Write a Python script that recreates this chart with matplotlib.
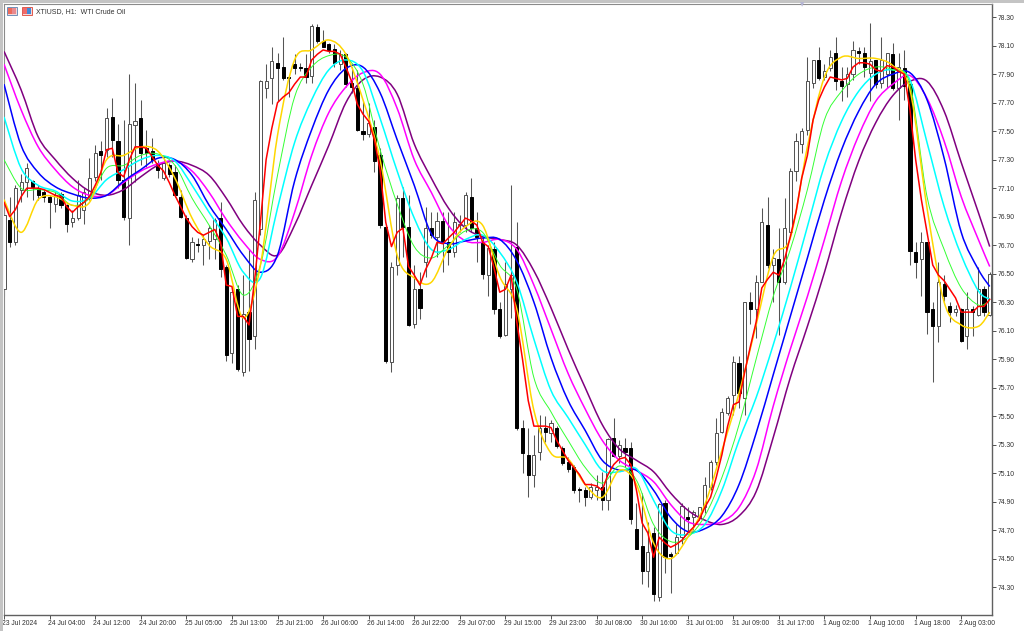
import matplotlib
matplotlib.use('Agg')
import matplotlib.pyplot as plt
from matplotlib.patches import Rectangle, PathPatch
from matplotlib.path import Path
from matplotlib.transforms import ScaledTranslation

opens = [76.39,76.88,76.72,77.09,77.14,77.15,77.10,77.07,77.04,76.99,77.06,76.98,76.86,76.89,76.95,77.04,77.18,77.36,77.37,77.60,
         77.43,77.16,76.89,77.54,77.59,77.38,77.36,77.28,77.17,77.26,77.21,77.04,76.89,76.60,76.71,76.70,76.73,76.74,76.89,76.55,
         75.94,76.39,75.81,76.23,76.06,76.81,77.80,77.87,77.98,77.95,77.88,77.97,77.95,77.94,77.89,78.23,78.13,78.11,78.08,77.97,
         78.04,77.84,77.80,77.50,77.48,77.53,77.33,76.83,75.88,76.56,77.03,76.83,76.15,76.39,76.58,76.82,76.76,76.87,76.72,76.65,
         76.84,76.84,77.04,76.82,76.72,76.49,76.67,76.25,76.07,76.39,76.69,75.42,75.23,75.09,75.25,75.42,75.38,75.42,75.28,75.18,
         75.14,74.99,74.98,74.93,74.98,75.00,74.91,75.35,75.22,75.28,75.28,74.71,74.59,74.41,74.68,74.23,74.89,74.53,74.54,74.65,
         74.79,74.79,74.79,74.86,75.00,75.18,75.39,75.52,75.65,75.87,75.63,76.30,76.25,76.44,76.84,76.56,76.60,76.44,76.79,77.22,
         77.41,77.51,77.84,78.00,77.88,77.94,78.05,77.85,77.83,77.90,78.06,78.05,77.91,78.00,77.84,77.90,78.04,77.80,77.94,77.83,
         76.65,76.60,76.72,76.25,76.13,76.43,76.27,76.23,76.25,76.06,76.25,76.21,76.39,76.21]
highs = [77.02,77.04,77.12,77.20,77.28,77.16,77.12,77.09,77.05,77.07,77.07,76.99,76.95,77.16,77.10,77.31,77.40,77.43,77.66,77.73,
         77.55,77.58,77.90,77.84,77.72,77.51,77.45,77.30,77.31,77.28,77.26,77.09,76.91,76.76,76.75,76.77,76.84,76.89,77.00,76.56,
         76.40,76.42,76.49,76.67,77.07,77.86,77.97,78.09,78.05,78.16,77.88,78.04,77.98,78.04,78.25,78.25,78.21,78.12,78.11,78.07,
         78.05,77.95,77.93,77.71,77.70,77.58,77.38,76.84,76.58,77.05,77.11,77.05,76.56,76.51,76.97,76.93,76.93,76.93,76.93,76.93,
         76.91,77.07,77.17,76.93,76.76,76.70,76.72,76.30,76.58,77.12,76.86,75.47,75.42,75.37,75.51,75.50,75.47,75.43,75.29,75.21,
         75.16,75.00,75.00,75.03,75.09,75.11,75.35,75.49,75.33,75.35,75.32,74.89,74.96,74.76,74.72,74.89,74.91,74.55,74.74,74.89,
         74.86,74.84,74.86,75.07,75.19,75.49,75.56,75.64,75.92,75.92,76.30,76.37,76.49,76.96,77.04,76.67,76.82,77.03,77.24,77.49,
         77.52,78.02,78.00,78.09,77.97,78.07,78.16,77.95,77.95,78.13,78.09,78.09,78.26,78.00,78.16,78.05,78.12,78.05,78.07,77.84,
         76.72,76.79,76.72,76.30,76.58,76.49,76.30,76.28,76.26,76.37,76.27,76.55,76.41,76.51]
lows = [76.34,76.69,76.70,77.00,77.04,77.02,77.02,77.00,76.82,76.93,76.96,76.79,76.83,76.88,76.85,77.02,77.15,77.16,77.32,77.32,
        77.10,76.88,76.70,77.14,77.26,77.25,77.28,77.17,77.16,77.18,77.04,76.89,76.60,76.58,76.65,76.56,76.60,76.60,76.48,75.89,
        75.87,75.82,75.78,75.82,75.97,76.77,77.73,77.69,77.71,77.86,77.74,77.90,77.92,77.84,77.84,78.12,78.09,78.05,77.95,77.93,
        77.81,77.77,77.50,77.44,77.46,77.21,76.82,75.87,75.81,76.49,76.62,76.13,76.12,76.18,76.48,76.75,76.62,76.51,76.56,76.62,
        76.79,76.79,76.79,76.58,76.46,76.34,76.22,76.05,76.06,76.19,75.40,75.10,74.93,75.00,75.19,75.32,75.32,75.28,75.16,75.11,
        74.96,74.90,74.87,74.92,74.91,74.84,74.84,75.21,75.17,75.14,74.74,74.57,74.32,74.30,74.20,74.20,74.40,74.26,74.53,74.60,
        74.69,74.70,74.77,74.82,74.98,75.16,75.38,75.51,75.51,75.56,75.51,76.15,76.05,76.44,76.54,76.30,76.07,76.43,76.79,77.15,
        77.35,77.47,77.80,77.86,77.86,77.92,77.79,77.71,77.74,77.86,77.97,77.88,77.71,77.80,77.80,77.80,77.79,77.58,77.72,76.56,
        76.47,76.34,76.08,75.74,76.02,76.31,76.16,76.20,76.02,75.97,76.06,76.20,76.20,76.20]
closes = [76.91,76.72,77.10,77.14,77.24,77.11,77.05,77.04,77.00,77.05,76.98,76.85,76.89,77.05,77.07,77.17,77.35,77.33,77.59,77.44,
          77.16,76.90,77.55,77.57,77.35,77.35,77.30,77.23,77.28,77.20,77.05,76.90,76.61,76.72,76.70,76.74,76.82,76.88,76.53,75.93,
          76.37,75.83,76.22,76.04,77.02,77.85,77.85,77.99,77.94,77.87,77.87,77.94,77.94,77.88,78.24,78.13,78.09,78.07,77.98,78.04,
          77.83,77.81,77.51,77.48,77.56,77.29,76.84,75.89,76.55,77.03,76.83,76.14,76.39,76.26,76.82,76.77,76.87,76.72,76.65,76.86,
          76.85,77.05,76.82,76.76,76.50,76.68,76.25,76.06,76.43,76.49,75.42,75.24,75.09,75.23,75.42,75.39,75.45,75.29,75.17,75.13,
          74.98,74.98,74.93,75.00,75.00,74.91,75.34,75.22,75.30,75.25,74.78,74.57,74.41,74.55,74.25,74.88,74.51,74.52,74.65,74.87,
          74.78,74.83,74.86,75.02,75.18,75.38,75.53,75.63,75.88,75.66,76.30,76.25,76.44,76.86,76.56,76.61,76.44,76.82,77.22,77.43,
          77.50,77.85,78.00,77.87,77.92,78.02,77.85,77.82,77.90,78.07,78.05,77.95,77.99,77.83,78.00,78.05,77.80,77.95,77.82,76.66,
          76.58,76.72,76.23,76.13,76.44,76.34,76.23,76.25,76.03,76.25,76.23,76.39,76.23,76.50]

line_bars = list(range(0, 172, 3)) + [173]
purple = [78.06,77.79,77.46,77.30,77.17,77.08,77.05,77.09,77.18,77.26,77.29,77.26,77.19,77.03,76.84,76.70,76.63,76.84,77.12,77.40,
          77.70,77.86,77.88,77.76,77.41,77.17,76.96,76.82,76.76,76.74,76.70,76.52,76.26,75.97,75.70,75.44,75.27,75.19,75.11,74.96,
          74.84,74.77,74.74,74.80,74.97,75.35,75.77,76.13,76.51,76.93,77.29,77.56,77.75,77.85,77.85,77.64,77.28,76.93,76.69]
magenta = [77.97,77.65,77.39,77.23,77.11,77.05,77.05,77.14,77.22,77.27,77.29,77.22,77.07,76.88,76.72,76.60,76.62,76.93,77.33,77.63,
           77.81,77.91,77.90,77.66,77.30,77.07,76.84,76.73,76.72,76.74,76.67,76.42,76.11,75.80,75.55,75.33,75.19,75.12,75.04,74.88,
           74.76,74.74,74.76,74.86,75.12,75.57,75.97,76.34,76.74,77.15,77.47,77.71,77.83,77.89,77.73,77.43,77.04,76.74,76.55]
blue = [77.83,77.40,77.21,77.11,77.06,77.03,77.05,77.15,77.23,77.31,77.30,77.19,76.98,76.81,76.63,76.51,76.63,77.15,77.51,77.79,
        77.94,77.95,77.77,77.44,77.12,76.78,76.71,76.73,76.75,76.74,76.59,76.30,75.91,75.61,75.40,75.19,75.12,75.12,74.98,74.79,
        74.69,74.71,74.80,75.02,75.38,75.79,76.20,76.61,77.02,77.37,77.64,77.83,77.90,77.91,77.72,77.31,76.79,76.53,76.41]
cyan = [77.60,77.24,77.12,77.08,77.01,77.03,77.16,77.23,77.30,77.33,77.29,77.12,76.93,76.75,76.51,76.47,76.96,77.42,77.72,77.93,
        78.00,77.92,77.59,77.22,76.89,76.67,76.67,76.74,76.77,76.65,76.44,76.04,75.68,75.49,75.30,75.12,75.11,75.13,74.91,74.70,
        74.67,74.74,74.98,75.33,75.63,76.00,76.40,76.83,77.26,77.57,77.78,77.90,77.93,77.86,77.42,76.97,76.63,76.38,76.32]
lime = [77.30,77.10,77.09,77.07,76.98,77.03,77.24,77.26,77.33,77.34,77.26,77.03,76.84,76.63,76.35,76.56,77.19,77.74,77.95,78.03,
        78.02,77.83,77.37,76.99,76.69,76.61,76.70,76.80,76.79,76.56,76.39,75.77,75.53,75.33,75.14,75.03,75.15,75.05,74.74,74.62,
        74.65,74.80,75.07,75.44,75.90,76.34,76.67,77.09,77.58,77.78,77.90,77.95,77.93,77.83,77.04,76.67,76.40,76.28,76.31]
gold = [77.02,76.79,77.02,77.04,76.98,77.00,77.30,77.33,77.39,77.36,77.17,76.89,76.70,76.60,76.19,76.56,77.47,78.00,78.07,78.14,
        78.04,77.72,77.30,76.63,76.47,76.44,76.68,76.83,76.84,76.48,76.25,75.54,75.24,75.20,75.02,74.93,75.12,75.02,74.61,74.50,
        74.65,74.88,75.26,75.66,76.14,76.62,76.75,77.39,77.88,78.02,78.01,78.01,77.96,77.79,76.96,76.30,76.14,76.13,76.23]
# the red line is read on every bar, it has too many corners for anything coarser
red = [77.00,76.90,76.95,77.04,77.10,77.10,77.10,77.09,77.07,77.05,77.04,76.97,76.93,76.97,77.00,77.04,77.12,77.21,77.37,77.38,
       77.21,77.18,77.30,77.39,77.39,77.38,77.32,77.26,77.22,77.14,77.05,76.97,76.89,76.83,76.79,76.77,76.79,76.81,76.72,76.42,
       76.41,76.20,76.20,76.14,76.46,76.86,77.30,77.52,77.70,77.74,77.77,77.83,77.88,77.88,78.00,78.04,78.07,78.06,78.06,78.04,
       77.95,77.85,77.69,77.62,77.57,77.44,77.23,76.86,76.69,76.79,76.82,76.55,76.49,76.42,76.53,76.61,76.72,76.71,76.75,76.79,
       76.84,76.89,76.87,76.84,76.72,76.69,76.54,76.37,76.39,76.49,76.16,75.90,75.61,75.43,75.43,75.43,75.42,75.33,75.26,75.19,
       75.14,75.09,75.02,75.02,75.01,74.98,75.09,75.16,75.20,75.21,75.16,74.98,74.75,74.68,74.51,74.65,74.61,74.58,74.60,74.63,
       74.68,74.72,74.77,74.86,74.93,75.07,75.23,75.43,75.58,75.60,75.81,75.99,76.16,76.40,76.46,76.51,76.49,76.60,76.76,76.93,
       77.17,77.33,77.58,77.72,77.81,77.88,77.87,77.86,77.87,77.95,77.98,77.98,77.97,77.93,77.92,77.96,77.95,77.92,77.90,77.65,
       77.30,77.02,76.79,76.56,76.49,76.45,76.39,76.33,76.23,76.23,76.23,76.27,76.27,76.32]

price_ticks = [74.30 + 0.2 * n for n in range(21)]
time_ticks = list(range(0, 176, 8))
time_labels = ['23 Jul 2024','24 Jul 04:00','24 Jul 12:00','24 Jul 20:00','25 Jul 05:00','25 Jul 13:00','25 Jul 21:00',
               '26 Jul 06:00','26 Jul 14:00','26 Jul 22:00','29 Jul 07:00','29 Jul 15:00','29 Jul 23:00','30 Jul 08:00',
               '30 Jul 16:00','31 Jul 01:00','31 Jul 09:00','31 Jul 17:00','1 Aug 02:00','1 Aug 10:00','1 Aug 18:00','2 Aug 03:00']

plt.rcParams['font.family'] = ['Liberation Sans', 'DejaVu Sans']

fig = plt.figure(figsize=(10.24, 6.31), dpi=100, facecolor='white')
ax = fig.add_axes([3.5/1024, 1 - 614.5/631, (992 - 3.5)/1024, (614.5 - 3.5)/631])

# candles
bars = list(range(len(opens)))
ax.vlines(bars, lows, highs, color='#555555', linewidth=0.75, zorder=2)
for i in bars:
    bottom = min(opens[i], closes[i])
    height = abs(closes[i] - opens[i])
    if closes[i] > opens[i]:
        ax.bar(i, height, bottom=bottom, width=0.55, facecolor='white', edgecolor='#505050', linewidth=0.7, zorder=3)
    else:
        ax.bar(i, height, bottom=bottom, width=0.55, facecolor='black', edgecolor='black', linewidth=0.7, zorder=3)


def curve(xs, ys, color, width):
    # a rounded stroke through the read values, the indicators are smooth on the terminal
    verts = [(xs[0], ys[0])]
    codes = [Path.MOVETO]
    last = len(xs) - 1
    for i in range(last):
        a, b = max(i - 1, 0), min(i + 2, last)
        verts.append((xs[i] + (xs[i + 1] - xs[a]) / 6, ys[i] + (ys[i + 1] - ys[a]) / 6))
        verts.append((xs[i + 1] - (xs[b] - xs[i]) / 6, ys[i + 1] - (ys[b] - ys[i]) / 6))
        verts.append((xs[i + 1], ys[i + 1]))
        codes += [Path.CURVE4, Path.CURVE4, Path.CURVE4]
    ax.add_patch(PathPatch(Path(verts, codes), fill=False, edgecolor=color, linewidth=width, zorder=4))


curve(line_bars, purple, '#800080', 1.1)
curve(line_bars, magenta, '#ff00ff', 1.1)
curve(line_bars, blue, '#0000ff', 1.1)
curve(line_bars, cyan, '#00ffff', 1.1)
curve(line_bars, lime, '#33ff33', 0.7)
curve(line_bars, gold, '#ffd700', 1.1)
ax.plot(bars, red, color='#ff0000', linewidth=1.1, zorder=5)

ax.set_xlim(-0.09, 173.4)
ax.set_ylim(74.108, 78.396)

ax.yaxis.tick_right()
ax.set_yticks(price_ticks)
ax.set_yticklabels(['%.2f' % p for p in price_ticks], fontsize=4.9, color='#303030')
ax.set_xticks(time_ticks)
ax.set_xticklabels(time_labels, fontsize=4.85, color='#303030', ha='left')
ax.tick_params(axis='y', length=3, width=0.7, color='#505050', pad=0.8)
ax.tick_params(axis='x', length=3, width=0.7, color='#505050', pad=1.2)

# time labels start right under their tick mark
nudge = ScaledTranslation(-1.8/100, 0, fig.dpi_scale_trans)
for label in ax.get_xticklabels():
    label.set_transform(label.get_transform() + nudge)

for side in ['top', 'left']:
    ax.spines[side].set_color('#8a8a8a')
    ax.spines[side].set_linewidth(0.8)
for side in ['bottom', 'right']:
    ax.spines[side].set_color('#606060')
    ax.spines[side].set_linewidth(1.0)

# window frame round the chart
fig.add_artist(Rectangle((0, 0), 3/1024, 1, transform=fig.transFigure, facecolor='#c4c4c4', edgecolor='none'))
fig.add_artist(Rectangle((0, 1 - 3/631), 1, 3/631, transform=fig.transFigure, facecolor='#c4c4c4', edgecolor='none'))


# the two small chart icons and the title
def icon(px, border, left, right):
    fig.add_artist(Rectangle((px/1024, 1 - 14.5/631), 10.5/1024, 8/631, transform=fig.transFigure,
                             facecolor='#f4d8d8', edgecolor=border, linewidth=0.7))
    fig.add_artist(Rectangle(((px + 1)/1024, 1 - 13.5/631), 4/1024, 5.5/631, transform=fig.transFigure,
                             facecolor=left, edgecolor='none'))
    fig.add_artist(Rectangle(((px + 5.5)/1024, 1 - 13.5/631), 4/1024, 5.5/631, transform=fig.transFigure,
                             facecolor=right, edgecolor='none'))


icon(6.5, '#7090b8', '#ee6a5a', '#e88a90')
icon(21.5, '#e05a50', '#f06a6a', '#3f8ad8')
fig.text(36/1024, 1 - 11.2/631, 'XTIUSD, H1:  WTI Crude Oil', fontsize=5.05, color='#303030', va='center', ha='left')

# shift marker at the top edge
fig.text(802.5/1024, 1 - 5/631, '\u25bc', fontsize=4, color='#b4b4d4', ha='center', va='center', family='DejaVu Sans')

fig.savefig('out.png', dpi=100, facecolor='white')
